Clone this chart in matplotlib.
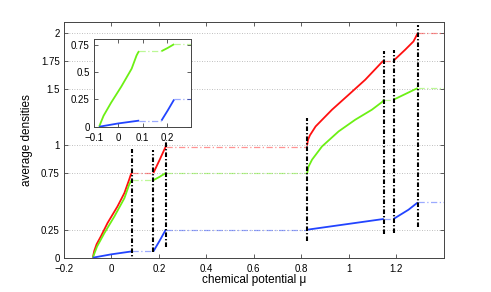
import numpy as np
import matplotlib
matplotlib.use('Agg')
import matplotlib.pyplot as plt

plt.rcParams['font.family'] = ['Liberation Sans', 'DejaVu Sans']

# segments of the density curves (chemical potential, density)
red_mu = [[-0.078, -0.072, -0.062, -0.044, -0.016, 0.026, 0.055, 0.075, 0.082, 0.086],
          [0.177, 0.203, 0.229],
          [0.824, 0.828, 0.836, 0.86, 0.929, 0.999, 1.069, 1.142, 1.147],
          [1.188, 1.237, 1.272, 1.29]]
red_n = [[0.0, 0.06, 0.12, 0.19, 0.309, 0.457, 0.576, 0.695, 0.74, 0.754],
         [0.754, 0.87, 0.99],
         [1.0, 1.05, 1.09, 1.169, 1.318, 1.451, 1.585, 1.748, 1.754],
         [1.754, 1.852, 1.926, 2.0]]

green_mu = [[-0.078, -0.071, -0.06, -0.029, 0.013, 0.055, 0.075, 0.082, 0.086],
            [0.177, 0.203, 0.229],
            [0.824, 0.83, 0.845, 0.887, 0.957, 1.027, 1.097, 1.142, 1.147],
            [1.188, 1.24, 1.29]]
green_n = [[0.0, 0.04, 0.10, 0.22, 0.368, 0.53, 0.65, 0.68, 0.69],
           [0.69, 0.72, 0.754],
           [0.748, 0.81, 0.873, 0.991, 1.125, 1.229, 1.318, 1.39, 1.407],
           [1.407, 1.46, 1.511]]

blue_mu = [[-0.078, 0.0, 0.086],
           [0.177, 0.203, 0.229],
           [0.824, 1.147],
           [1.188, 1.251, 1.29]]
blue_n = [[0.0, 0.03, 0.056],
          [0.056, 0.15, 0.249],
          [0.249, 0.345],
          [0.345, 0.427, 0.492]]

# phase boundaries (vertical dash-dot markers)
bound_mu = [0.0866, 0.177, 0.229, 0.824, 1.147, 1.188, 1.29]
bound_lo = [-0.05, 0.05, 0.095, 0.145, 0.214, 0.22, 0.27]
bound_hi = [0.968, 0.96, 1.035, 1.244, 1.837, 1.846, 2.075]

xticks = [-0.2, 0, 0.2, 0.4, 0.6, 0.8, 1, 1.2]
yticks = [0, 0.25, 0.75, 1, 1.5, 1.75, 2]
inset_xticks = [-0.1, 0, 0.1, 0.2]
inset_yticks = [0, 0.25, 0.5, 0.75]

c_red = '#ff1010'
c_green = '#6cf014'
c_blue = '#2244ff'


def fmt(ticks):
    return [('%g' % t).replace('-', '\u2212') for t in ticks]


def draw_series(ax, mus, ns, color, xend):
    for i in range(len(mus)):
        ax.plot(mus[i], ns[i], color=color, lw=1.3, solid_capstyle='butt')
        # plateau up to the start of the next segment
        x1 = mus[i + 1][0] if i + 1 < len(mus) else xend
        ax.plot([mus[i][-1], x1], [ns[i][-1], ns[i][-1]], color=color,
                lw=0.9, alpha=0.45, dashes=(5, 2, 1, 2))


def style_axes(ax, fs):
    for s in ax.spines.values():
        s.set_color('#444444')
        s.set_linewidth(0.7)
    ax.tick_params(direction='in', length=3, width=0.6, color='#444444',
                   top=True, right=True, labelsize=fs)
    ax.tick_params(axis='x', pad=4.5)
    ax.tick_params(axis='y', pad=3)


fig = plt.figure(figsize=(4.91, 2.92), dpi=100)
ax = fig.add_axes([0.130, 0.1175, 0.774, 0.8075])

for y in yticks:
    ax.axhline(y, color='#aaaaaa', lw=0.6, ls=(0, (1, 2)), zorder=0)

draw_series(ax, red_mu, red_n, c_red, 1.4)
draw_series(ax, green_mu, green_n, c_green, 1.4)
draw_series(ax, blue_mu, blue_n, c_blue, 1.4)

for m, lo, hi in zip(bound_mu, bound_lo, bound_hi):
    ax.plot([m, m], [lo, hi], color='black', lw=1.5, dashes=(2.2, 1, 0.6, 1))

ax.set_xlim(-0.2, 1.4)
ax.set_ylim(0, 2.1)
ax.set_xticks(xticks)
ax.set_xticklabels(fmt(xticks))
ax.set_yticks(yticks)
ax.set_yticklabels(fmt(yticks))
style_axes(ax, 7)
ax.set_xlabel('chemical potential μ', fontsize=8.5, labelpad=0)
ax.set_ylabel('average densities', fontsize=8.5, labelpad=6)

# inset zoom on the first lobes
axin = fig.add_axes([0.191, 0.566, 0.199, 0.300])
axin.patch.set_facecolor('white')
draw_series(axin, green_mu[:2], green_n[:2], c_green, 0.3)
draw_series(axin, blue_mu[:2], blue_n[:2], c_blue, 0.3)
axin.set_xlim(-0.1, 0.3)
axin.set_ylim(0, 0.8)
axin.set_xticks(inset_xticks)
axin.set_xticklabels(fmt(inset_xticks))
axin.set_yticks(inset_yticks)
axin.set_yticklabels(fmt(inset_yticks))
style_axes(axin, 7)

fig.savefig('out.png', dpi=100)
